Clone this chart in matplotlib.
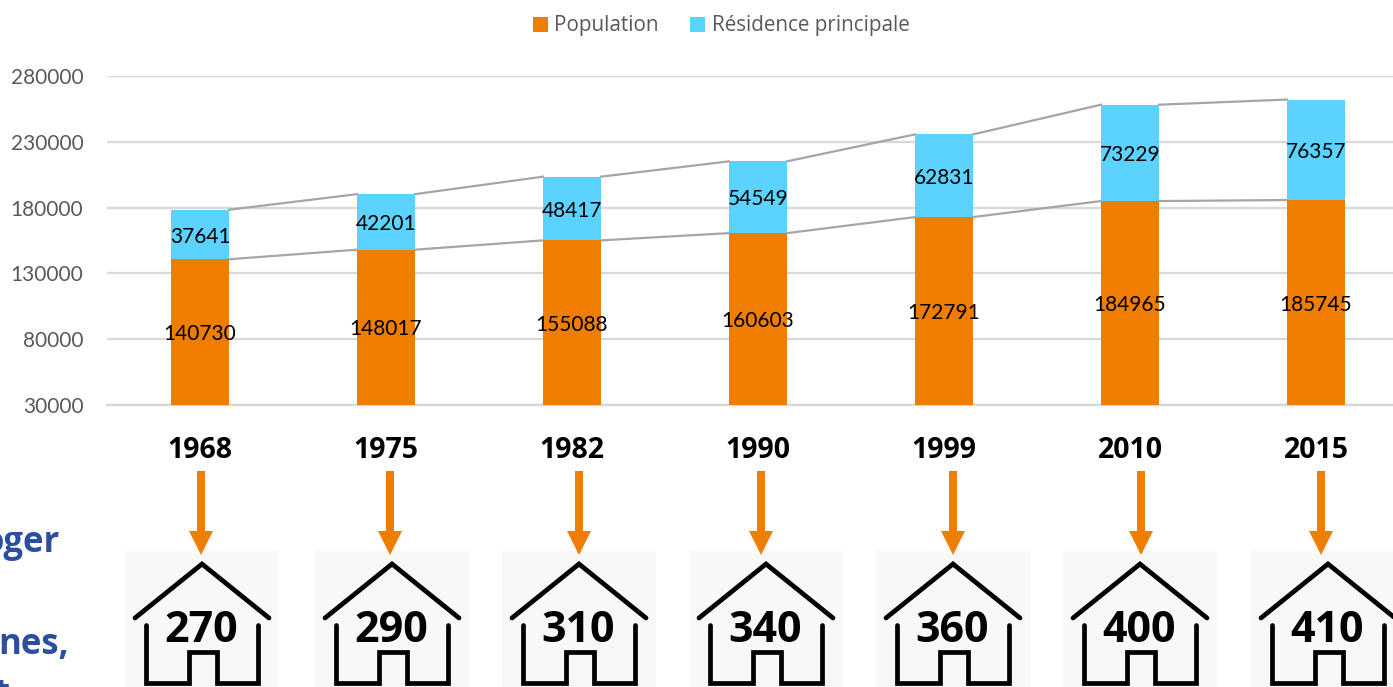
import matplotlib
matplotlib.use('Agg')
import matplotlib.pyplot as plt
from matplotlib.patches import Rectangle, Polygon

plt.rcParams['font.family'] = ['Lato', 'DejaVu Sans']

years = ['1968', '1975', '1982', '1990', '1999', '2010', '2015']
population = [140730, 148017, 155088, 160603, 172791, 184965, 185745]
residences = [37641, 42201, 48417, 54549, 62831, 73229, 76357]
houses = ['270', '290', '310', '340', '360', '400', '410']
yticks = [30000, 80000, 130000, 180000, 230000, 280000]

W, H = 1393, 687
orange = '#EE7D00'
blue = '#5BD2FF'
bar_w = 58 / 186

fig = plt.figure(figsize=(W / 100, H / 100), dpi=100)

# chart part
ax = fig.add_axes([107 / W, 1 - 405 / H, (W - 107) / W, 329 / H])
x = list(range(len(years)))
ax.set_xlim(-0.5, (W - 200) / 186)
ax.set_ylim(30000, 280000)

tops = [p + r for p, r in zip(population, residences)]
b1 = ax.bar(x, population, bar_w, color=orange, zorder=3, label='Population')
b2 = ax.bar(x, residences, bar_w, bottom=population, color=blue, zorder=3, label='Résidence principale')

# series lines between the bars
for i in range(len(x) - 1):
    for serie in (population, tops):
        ax.plot([x[i] + bar_w / 2, x[i + 1] - bar_w / 2], [serie[i], serie[i + 1]],
                color='#A5A5A5', lw=1.6, zorder=2)

for i in x:
    ax.annotate(str(population[i]), (i, population[i] / 2 + 15000), xytext=(0, -1.5), textcoords='offset points',
                ha='center', va='center', fontsize=15, color='black', zorder=4)
    ax.annotate(str(residences[i]), (i, population[i] + residences[i] / 2), xytext=(0, -1.5), textcoords='offset points',
                ha='center', va='center', fontsize=15, color='black', zorder=4)

ax.set_yticks(yticks)
ax.set_xticks([])
ax.tick_params(axis='y', length=0, pad=17, labelsize=15, labelcolor='#595959')
ax.grid(axis='y', color='#D9D9D9', lw=1.7, zorder=0)
ax.set_axisbelow(True)
for s in ['top', 'right', 'left']:
    ax.spines[s].set_visible(False)
ax.spines['bottom'].set_color('#D9D9D9')
ax.spines['bottom'].set_linewidth(1.7)

fig.legend(handles=[b1, b2], loc='center', bbox_to_anchor=(721 / W, 1 - 26 / H), ncol=2, frameon=False,
           prop={'family': 'Open Sans', 'size': 14.9}, labelcolor='#595959', handlelength=0.75, handleheight=0.75,
           handletextpad=0.3, columnspacing=1.5)

# houses and arrows under the chart, in pixel coordinates
over = fig.add_axes([0, 0, 1, 1], facecolor='none')
over.set_xlim(0, W)
over.set_ylim(H, 0)
over.axis('off')

year_x = [200, 386, 572, 758, 944, 1130, 1316]
arrow_x = [201, 390, 579, 761, 953, 1141, 1321]
house_left = [125, 315, 502, 689, 876, 1063, 1251]

for i in range(len(years)):
    over.text(year_x[i], 450, years[i], ha='center', va='center', fontsize=20.5, fontweight='bold', family='Open Sans', color='black')

    l = house_left[i]
    over.add_patch(Rectangle((l, 551), 154, 136, color='#F8F8F8', lw=0, zorder=1))

    a = arrow_x[i]
    over.add_patch(Rectangle((a - 4, 471), 8, 62, color=orange, lw=0, zorder=2))
    over.add_patch(Polygon([(a - 12, 531), (a + 12, 531), (a, 555)], color=orange, lw=0, zorder=2))

    over.plot([l + 10, l + 77, l + 144], [618, 564, 618], color='black', lw=3.4, solid_capstyle='round', solid_joinstyle='miter', zorder=3)
    over.plot([l + 21, l + 21, l + 64, l + 64, l + 92, l + 92, l + 133, l + 133],
              [625, 683, 683, 652, 652, 683, 683, 625], color='black', lw=3.4, solid_capstyle='round', solid_joinstyle='miter', zorder=3)
    over.text(l + 76, 631, houses[i], ha='center', va='center', fontsize=31, fontweight='bold', family='Open Sans', color='black', zorder=4)

# clipped text from the slide on the left
blue_txt = '#2B4F9E'
over.text(60, 552, 'oger', ha='right', va='baseline', fontsize=25, fontweight='bold', family='Open Sans', color=blue_txt)
over.text(69, 654, 'nes,', ha='right', va='baseline', fontsize=25, fontweight='bold', family='Open Sans', color=blue_txt)
over.text(9, 704, 't', ha='right', va='baseline', fontsize=25, fontweight='bold', family='Open Sans', color=blue_txt)

plt.savefig('out.png', dpi=100)
